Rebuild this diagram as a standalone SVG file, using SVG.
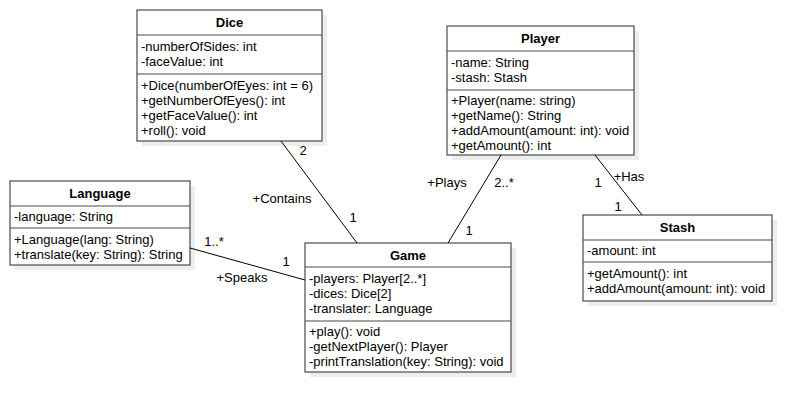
<svg xmlns="http://www.w3.org/2000/svg" width="811" height="413" viewBox="0 0 811 413">
<style>
.shadow{fill:#ededed;stroke:none}
.box{fill:#fff;stroke:#4a4a4a;stroke-width:1.2}
.div{stroke:#4a4a4a;stroke-width:1.2}
text{font-family:"Liberation Sans",Arial,sans-serif;font-size:13px;fill:#000}
.title{font-weight:bold;text-anchor:middle}
.lbl{text-anchor:middle}
.conn line{stroke:#000;stroke-width:1}
</style>
<rect width="811" height="413" fill="#fff"/>

<g id="dice">
<rect class="shadow" x="142" y="15" width="185" height="131"/>
<rect class="box" x="137" y="10" width="185" height="131"/>
<line class="div" x1="137" y1="35" x2="322" y2="35"/>
<line class="div" x1="137" y1="74" x2="322" y2="74"/>
<text class="title" x="229.5" y="27">Dice</text>
<text x="141" y="51">-numberOfSides: int</text>
<text x="141" y="66">-faceValue: int</text>
<text x="141" y="90">+Dice(numberOfEyes: int = 6)</text>
<text x="141" y="105">+getNumberOfEyes(): int</text>
<text x="141" y="120">+getFaceValue(): int</text>
<text x="141" y="135">+roll(): void</text>
</g>

<g id="player">
<rect class="shadow" x="452" y="31" width="187" height="129"/>
<rect class="box" x="447" y="26" width="187" height="129"/>
<line class="div" x1="447" y1="51" x2="634" y2="51"/>
<line class="div" x1="447" y1="90" x2="634" y2="90"/>
<text class="title" x="540.5" y="43">Player</text>
<text x="451" y="67">-name: String</text>
<text x="451" y="82">-stash: Stash</text>
<text x="451" y="105">+Player(name: string)</text>
<text x="451" y="120">+getName(): String</text>
<text x="451" y="135">+addAmount(amount: int): void</text>
<text x="451" y="150">+getAmount(): int</text>
</g>

<g id="language">
<rect class="shadow" x="15" y="186" width="180" height="84"/>
<rect class="box" x="10" y="181" width="180" height="84"/>
<line class="div" x1="10" y1="206" x2="190" y2="206"/>
<line class="div" x1="10" y1="228" x2="190" y2="228"/>
<text class="title" x="100" y="198">Language</text>
<text x="14" y="221">-language: String</text>
<text x="14" y="244">+Language(lang: String)</text>
<text x="14" y="259">+translate(key: String): String</text>
</g>

<g id="game">
<rect class="shadow" x="310" y="248" width="206" height="129"/>
<rect class="box" x="305" y="243" width="206" height="129"/>
<line class="div" x1="305" y1="267" x2="511" y2="267"/>
<line class="div" x1="305" y1="321" x2="511" y2="321"/>
<text class="title" x="408" y="260">Game</text>
<text x="309" y="283">-players: Player[2..*]</text>
<text x="309" y="298">-dices: Dice[2]</text>
<text x="309" y="313">-translater: Language</text>
<text x="309" y="336">+play(): void</text>
<text x="309" y="351">-getNextPlayer(): Player</text>
<text x="309" y="366">-printTranslation(key: String): void</text>
</g>

<g id="stash">
<rect class="shadow" x="588" y="220" width="189" height="86"/>
<rect class="box" x="583" y="215" width="189" height="86"/>
<line class="div" x1="583" y1="240" x2="772" y2="240"/>
<line class="div" x1="583" y1="262" x2="772" y2="262"/>
<text class="title" x="677.5" y="232">Stash</text>
<text x="587" y="255">-amount: int</text>
<text x="587" y="278">+getAmount(): int</text>
<text x="587" y="293">+addAmount(amount: int): void</text>
</g>

<g id="connectors" class="conn">
<line x1="281" y1="141" x2="357" y2="243"/>
<line x1="190" y1="248" x2="305" y2="280"/>
<line x1="501" y1="155" x2="448" y2="243"/>
<line x1="595" y1="155" x2="642" y2="215"/>
<text class="lbl" x="303" y="155">2</text>
<text class="lbl" x="282" y="203">+Contains</text>
<text class="lbl" x="353" y="222">1</text>
<text class="lbl" x="214" y="246">1..*</text>
<text class="lbl" x="286" y="266">1</text>
<text class="lbl" x="242" y="282">+Speaks</text>
<text class="lbl" x="447" y="187">+Plays</text>
<text class="lbl" x="504" y="187">2..*</text>
<text class="lbl" x="469" y="235">1</text>
<text class="lbl" x="598" y="187">1</text>
<text class="lbl" x="629" y="181">+Has</text>
<text class="lbl" x="618" y="211">1</text>
</g>
</svg>
